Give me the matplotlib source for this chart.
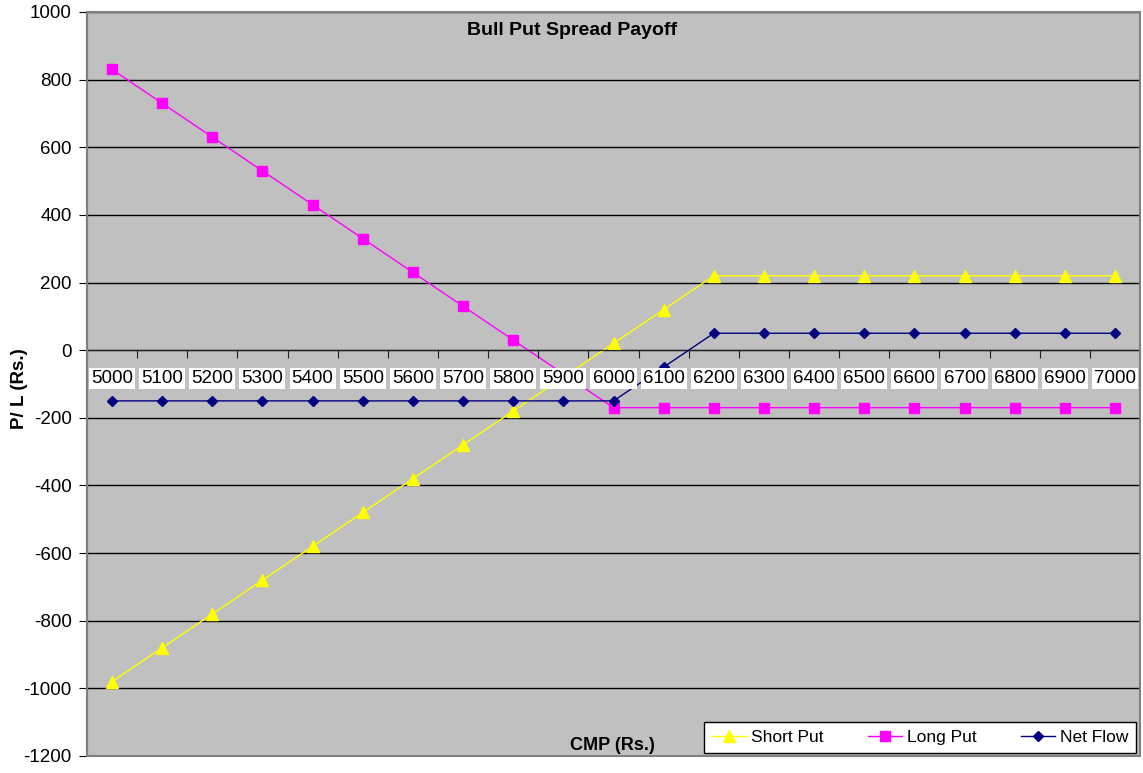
import numpy as np
import matplotlib.pyplot as plt
from matplotlib.patches import Rectangle

plt.rcParams['font.family'] = ['Liberation Sans', 'DejaVu Sans']
plt.rcParams['axes.unicode_minus'] = False

cmp_values = [5000, 5100, 5200, 5300, 5400, 5500, 5600, 5700, 5800, 5900, 6000,
              6100, 6200, 6300, 6400, 6500, 6600, 6700, 6800, 6900, 7000]
short_put = [-980, -880, -780, -680, -580, -480, -380, -280, -180, -80, 20,
             120, 220, 220, 220, 220, 220, 220, 220, 220, 220]
long_put = [830, 730, 630, 530, 430, 330, 230, 130, 30, -70, -170,
            -170, -170, -170, -170, -170, -170, -170, -170, -170, -170]
net_flow = [-150, -150, -150, -150, -150, -150, -150, -150, -150, -150, -150,
            -50, 50, 50, 50, 50, 50, 50, 50, 50, 50]
y_ticks = list(range(-1200, 1001, 200))

fig = plt.figure(figsize=(11.43, 7.73), dpi=100)
ax = fig.add_axes([0.0761, 0.022, 0.9213, 0.9625])
ax.set_facecolor('#C0C0C0')

idx = np.arange(len(cmp_values))

# gridlines under the data
for v in y_ticks:
    ax.axhline(v, color='black', lw=1, zorder=1)

# lines sit below the axis (zorder 2.5) so the category labels cover them
ax.plot(idx, short_put, color='#FFFF00', lw=1, marker='^', ms=8, zorder=2, label='Short Put')
ax.plot(idx, long_put, color='#FF00FF', lw=1, marker='s', ms=7, zorder=2, label='Long Put')
ax.plot(idx, net_flow, color='#000080', lw=1, marker='D', ms=5.5, zorder=2, label='Net Flow')

ax.set_xlim(-0.5, len(cmp_values) - 0.5)
ax.set_ylim(-1200, 1000)
ax.set_yticks(y_ticks)
ax.tick_params(axis='y', direction='out', length=6, labelsize=13.5, pad=5)

# category axis crossing at zero
ax.set_axisbelow(False)
ax.spines['bottom'].set_position(('data', 0))
ax.spines['bottom'].set_color('#202020')
for s in ['top', 'right']:
    ax.spines[s].set_visible(False)
ax.spines['left'].set_color('#606060')
ax.spines['left'].set_linewidth(1.5)

ax.set_xticks(np.arange(-0.5, len(cmp_values), 1.0))
ax.set_xticklabels([])
ax.set_xticks(idx, minor=True)
ax.set_xticklabels([str(c) for c in cmp_values], minor=True)
ax.tick_params(axis='x', which='major', direction='out', length=6, color='#202020')
ax.tick_params(axis='x', which='minor', length=0, labelsize=13.5, pad=14)
for lab in ax.get_xticklabels(minor=True):
    lab.set_bbox(dict(facecolor='white', edgecolor='none', pad=1.5))

# plot area border
ax.add_patch(Rectangle((0, 0), 1, 1, transform=ax.transAxes, fill=False,
                       edgecolor='#808080', lw=1.5, zorder=5, clip_on=False))

fig.text(0.5005, 0.961, 'Bull Put Spread Payoff', ha='center', va='center',
         fontsize=14, fontweight='bold')
fig.text(0.5355, 0.036, 'CMP (Rs.)', ha='center', va='center',
         fontsize=13, fontweight='bold')
fig.text(0.017, 0.497, 'P/ L (Rs.)', ha='center', va='center', rotation=90,
         fontsize=13.5, fontweight='bold')

leg = ax.legend(loc='lower left', bbox_to_anchor=(0.586, 0.004, 0.41, 0.05),
                mode='expand', ncol=3, fontsize=12.5, frameon=True, fancybox=False,
                edgecolor='black', framealpha=1, borderaxespad=0, handlelength=2.0,
                handletextpad=0.25, borderpad=0.45)
leg.get_frame().set_linewidth(1)
leg.set_zorder(11)

fig.savefig('out.png', dpi=100)
